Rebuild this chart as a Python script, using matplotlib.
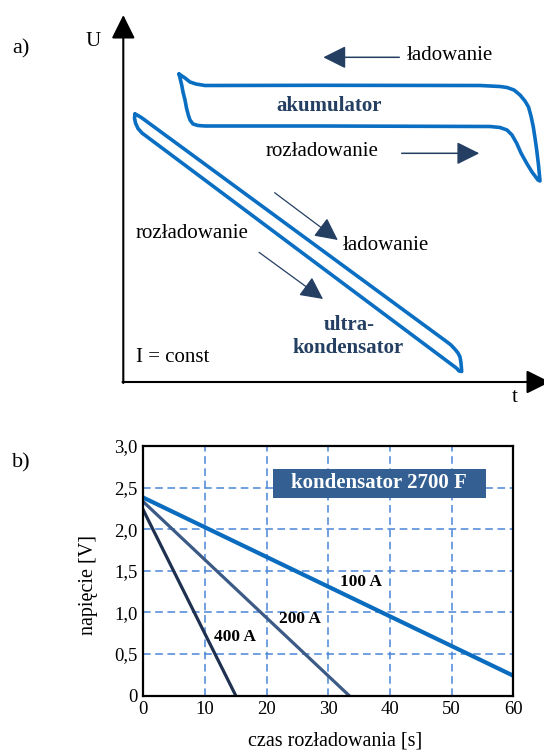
import numpy as np
import matplotlib
matplotlib.use("Agg")
import matplotlib.pyplot as plt
from matplotlib.patches import Rectangle

plt.rcParams['font.family'] = ['Liberation Serif', 'DejaVu Serif']

# --- panel a: schematic shapes (pixel-like units, y down) ---
akum_x = [179, 185, 190, 196, 205, 320, 480, 500, 507, 514, 520, 525, 528.5, 531, 533.3, 535, 536.7, 538.5, 540,
          538, 532, 526.7, 521, 516.7, 512, 507, 500, 490, 320, 205, 198, 193, 190, 188.3, 186.5, 185, 183, 181.7, 180, 179]
akum_y = [74, 78, 82, 84, 85.5, 85.3, 85.5, 86.5, 87.5, 90, 95, 101, 107, 116, 127, 138, 150, 165, 181,
          180, 172, 163.3, 153, 143.3, 135, 130, 127.5, 126.5, 126, 126, 125.5, 124, 120, 115, 108, 100, 92, 85, 78, 74]

ultra_x = [135, 138, 142, 446.7, 451, 455, 458, 460, 461, 461.7,
           459, 456.7, 148, 142, 138, 135.5, 134.5, 135]
ultra_y = [114, 115.5, 118, 341.7, 345, 349.3, 353, 357, 363, 371.5,
           371, 368.3, 137.5, 133, 128.5, 123, 118, 114]

# --- panel b: discharge lines ---
currents = ['100 A', '200 A', '400 A']
t_100 = [0, 60]
u_100 = [2.38, 0.24]
t_200 = [0, 33.4]
u_200 = [2.33, 0.0]
t_400 = [0, 15.0]
u_400 = [2.23, 0.0]
x_ticks = [0, 10, 20, 30, 40, 50, 60]
y_ticks = [0, 0.5, 1.0, 1.5, 2.0, 2.5, 3.0]
y_ticklabels = ['0', '0,5', '1,0', '1,5', '2,0', '2,5', '3,0']

W, H = 544, 752
fig = plt.figure(figsize=(W / 100, H / 100), dpi=100)

blue = '#0a6fc2'
navy = '#243f62'

# ---------------- panel a ----------------
axa = fig.add_axes([0, 1 - 400 / H, 1, 400 / H])
axa.set_xlim(0, W)
axa.set_ylim(400, 0)
axa.axis('off')

axa.plot(akum_x, akum_y, color=blue, lw=2.6, solid_joinstyle='round', solid_capstyle='round')
axa.plot(ultra_x, ultra_y, color=blue, lw=2.6, solid_joinstyle='round', solid_capstyle='round')

# coordinate axes with arrow heads
axstyle = dict(arrowstyle='-|>,head_length=1.45,head_width=0.72', color='black', lw=1.5,
               shrinkA=0, shrinkB=0, mutation_scale=10)
axa.annotate('', xy=(123.3, 15), xytext=(123.3, 383), arrowprops=axstyle, annotation_clip=False)
axa.annotate('', xy=(550, 382), xytext=(122.5, 382), arrowprops=axstyle, annotation_clip=False)

arr = dict(arrowstyle='-|>,head_length=1.4,head_width=0.7', color=navy, lw=1.1,
           shrinkA=0, shrinkB=0, mutation_scale=10)
axa.annotate('', xy=(323.3, 57.3), xytext=(399.3, 57.3), arrowprops=arr)
axa.annotate('', xy=(479.3, 153.3), xytext=(401.7, 153.3), arrowprops=arr)
arr2 = dict(arr, lw=0.9)
axa.annotate('', xy=(337.8, 240), xytext=(274.6, 192.7), arrowprops=arr2)
axa.annotate('', xy=(323, 299), xytext=(259, 252.3), arrowprops=arr2)

fs = 15
axa.text(12, 49, 'a)', fontsize=16, va='center', ha='left')
axa.text(93, 42, 'U', fontsize=15, va='center', ha='center')
axa.text(515, 398, 't', fontsize=15, va='center', ha='center', clip_on=False)
axa.text(407, 55, 'ładowanie', fontsize=fs, va='center', ha='left')
axa.text(329, 106, 'akumulator', fontsize=fs, fontweight='bold', color=navy, va='center', ha='center')
axa.text(266, 152, 'rozładowanie', fontsize=fs, va='center', ha='left')
axa.text(343, 246, 'ładowanie', fontsize=fs, va='center', ha='left')
axa.text(136, 233, 'rozładowanie', fontsize=fs, va='center', ha='left')
axa.text(349, 325, 'ultra-', fontsize=fs, fontweight='bold', color=navy, va='center', ha='center')
axa.text(348, 348, 'kondensator', fontsize=fs, fontweight='bold', color=navy, va='center', ha='center')
axa.text(136, 357, 'I = const', fontsize=fs, va='center', ha='left')

# ---------------- panel b ----------------
left, right, top, bottom = 143.3, 513.3, 446, 695.7
axb = fig.add_axes([left / W, 1 - bottom / H, (right - left) / W, (bottom - top) / H])
axb.set_xlim(0, 60)
axb.set_ylim(0, 3.0)
axb.set_xticks(x_ticks)
axb.set_yticks(y_ticks)
axb.set_yticklabels(y_ticklabels)
axb.tick_params(labelsize=13.5, length=0, pad=4)
axb.grid(True, color='#4a86d8', linestyle=(0, (5, 3)), lw=1.1)
for s in axb.spines.values():
    s.set_linewidth(1.6)
    s.set_zorder(5)

axb.plot(t_100, u_100, color='#0a6cbf', lw=3.0, zorder=3)
axb.plot(t_200, u_200, color='#3c5a86', lw=2.3, zorder=3)
axb.plot(t_400, u_400, color='#1f3150', lw=2.3, zorder=3)

lab_pos = [(35.3, 1.37), (25.4, 0.92), (14.9, 0.70)]
for name, (x, y) in zip(currents, lab_pos):
    axb.text(x, y, name, fontsize=12.5, fontweight='bold', ha='center', va='center', zorder=4)

axb.add_patch(Rectangle((0.35, 0.793), 0.576, 0.114, transform=axb.transAxes,
                        facecolor='#335f92', edgecolor='none', zorder=4))
axb.text(0.638, 0.85, 'kondensator 2700 F', transform=axb.transAxes, color='white',
         fontsize=15, fontweight='bold', ha='center', va='center', zorder=5)

fig.text(12 / W, 1 - 463 / H, 'b)', fontsize=16, va='center', ha='left')
fig.text(89 / W, 1 - 585 / H, 'napięcie [V]', fontsize=14.5, rotation=90, va='center', ha='center')
fig.text(335 / W, 1 - 741 / H, 'czas rozładowania [s]', fontsize=14.5, va='center', ha='center')

fig.savefig('out.png', dpi=100)
